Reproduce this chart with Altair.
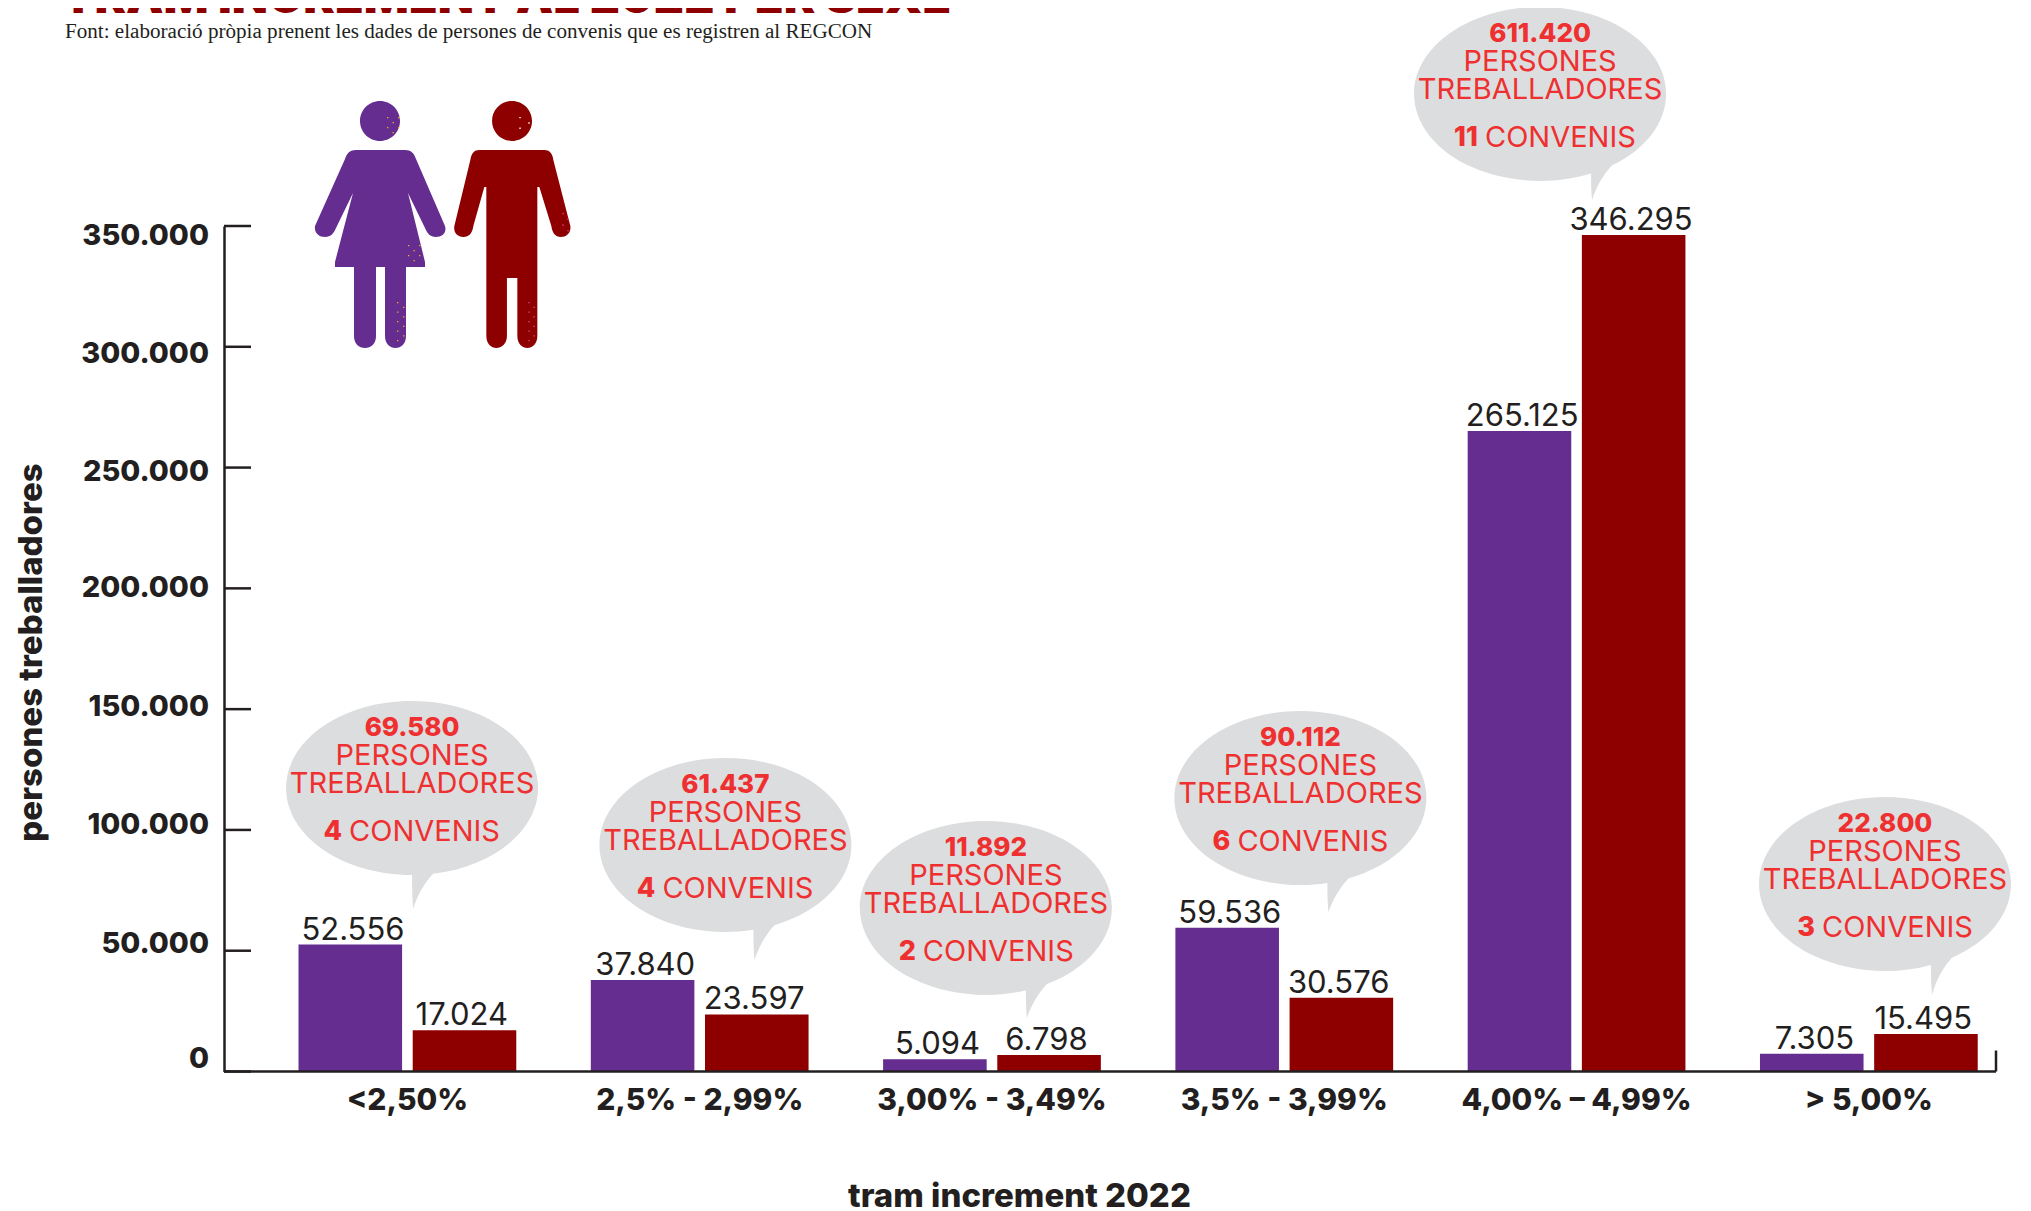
import math
import re
import altair as alt
import pandas as pd

categories = ["<2,50%", "2,5% - 2,99%", "3,00% - 3,49%", "3,5% - 3,99%", "4,00% – 4,99%", "> 5,00%"]
dona = [52556, 37840, 5094, 59536, 265125, 7305]
home = [17024, 23597, 6798, 30576, 346295, 15495]
totals = ["69.580", "61.437", "11.892", "90.112", "611.420", "22.800"]
convenis = ["4", "4", "2", "6", "11", "3"]
tick_values = [0, 50000, 100000, 150000, 200000, 250000, 300000, 350000]
tick_labels = ["0", "50.000", "100.000", "150.000", "200.000", "250.000", "300.000", "350.000"]
tick_label_at = [5000, 52800, 102000, 151000, 200000, 248000, 297000, 346000]
bubble_pos = [0.016, 1.088, 1.979, 3.055, 3.875, 5.055]
bubble_val = [117370, 93770, 67690, 113230, 404680, 77630]
tail_x = [0, 28, 40, 27, 51, 46]
tail_y = [121, 115, 110, 114, 106, 111]

W, H = 1772, 845.5
PURPLE, MAROON, INK, RED, GREY = "#652d90", "#8e0000", "#231f20", "#ee3030", "#dcddde"
GOLD, PINK = "#f5a623", "#d9408f"
SANS = "Inter"
X_RANGE = [37.25, 1791]
X_DOMAIN = [-0.6274, 5.4348]
Y_SCALE = alt.Scale(domain=[0, 350000], range=[H, 0], nice=False, zero=False)


def fmt(v):
    return f"{v:,}".replace(",", ".")


def P(s, cx, cy):
    toks = re.findall(r"[A-Za-z]|-?[\d.]+", s)
    out, isx = [], True
    for t in toks:
        if t.isalpha():
            out.append(t)
            isx = True
        else:
            v = float(t) - (cx if isx else cy)
            out.append(f"{v / 100:.4f}")
            isx = not isx
    return " ".join(out)


def circle(cx, cy, r):
    k = 0.5523 * r
    return (f"M {cx-r} {cy} C {cx-r} {cy-k} {cx-k} {cy-r} {cx} {cy-r} C {cx+k} {cy-r} {cx+r} {cy-k} {cx+r} {cy} "
            f"C {cx+r} {cy+k} {cx+k} {cy+r} {cx} {cy+r} C {cx-k} {cy+r} {cx-r} {cy+k} {cx-r} {cy} Z ")


RX, RY = 126, 87


def arc(a0, a1):
    n = max(1, math.ceil(abs(a1 - a0) / (math.pi / 2)))
    parts = []
    for i in range(n):
        b0 = a0 + (a1 - a0) * i / n
        b1 = a0 + (a1 - a0) * (i + 1) / n
        k = 4 / 3 * math.tan((b1 - b0) / 4)
        c1 = (RX * (math.cos(b0) - k * math.sin(b0)), RY * (math.sin(b0) + k * math.cos(b0)))
        c2 = (RX * (math.cos(b1) + k * math.sin(b1)), RY * (math.sin(b1) - k * math.cos(b1)))
        e = (RX * math.cos(b1), RY * math.sin(b1))
        parts.append(f"C {c1[0]:.2f} {c1[1]:.2f} {c2[0]:.2f} {c2[1]:.2f} {e[0]:.2f} {e[1]:.2f}")
    return " ".join(parts)


def bubble_path(t, tip):
    a_left = math.acos(t / RX)
    a_right = math.acos((t + 21) / RX)
    ly = RY * math.sin(a_left)
    ry = RY * math.sin(a_right)
    s = (f"M {-RX} 0 {arc(math.pi, 2 * math.pi + a_right)} "
         f"C {t+12} {ry+10} {t+6} {ry+20} {t+1} {tip} C {t} {ly+18} {t} {ly+8} {t} {ly} "
         f"{arc(a_left, math.pi)} Z")
    return P(s, 0, 0)


WOMAN = P(
    circle(380, 121, 20) +
    "M 356 150 L 405 150 C 411 150 414 153 416 159 L 445 226 C 447 233 442 237 436 237 "
    "C 430 237 427 233 425 228 L 408 193 L 425 262 L 425 267 L 406 267 L 406 336 "
    "C 406 344 401 348 395.5 348 C 390 348 385 344 385 336 L 385 267 L 376 267 L 376 336 "
    "C 376 344 371 348 365 348 C 359 348 354 344 354 336 L 354 267 L 335 267 L 335 262 "
    "L 353 193 L 336 228 C 334 233 331 237 325 237 C 319 237 314 233 315 226 L 345 159 "
    "C 347 153 350 150 356 150 Z", 380, 224.5)

MAN = P(
    circle(512.7, 121, 20) +
    "M 480 150 L 545 150 C 550 150 553 153 554 160 L 571 226 C 572 233 567 237 561.5 237 "
    "C 556 237 553 233 552 226 L 540 187 L 538 187 L 538 336 C 538 344 533 348 528 348 "
    "C 523 348 518 344 518 336 L 518 278 L 507.6 278 L 507.6 336 C 507.6 344 502 348 497 348 "
    "C 492 348 487 344 487 336 L 487 187 L 485 187 L 474 226 C 473 233 470 237 464 237 "
    "C 458 237 454 233 455 226 L 471 160 C 472 153 475 150 480 150 Z", 512.7, 224.5)


def dots(spots, cx):
    out = []
    for x0, x1, nx, y0, y1, ny in spots:
        for i in range(nx):
            for j in range(ny):
                if (i + j) % 2 == 0:
                    x = x0 + (x1 - x0) * i / max(1, nx - 1)
                    y = y0 + (y1 - y0) * j / max(1, ny - 1)
                    out.append(f"M {x} {y} L {x+1.4} {y} L {x+1.4} {y+1.4} L {x} {y+1.4} Z")
    return P(" ".join(out), cx, 224.5)


WOMAN_DOTS = dots([(387, 398, 3, 117, 132, 4), (408, 419, 3, 245, 260, 4), (397, 403, 2, 302, 340, 9)], 380)
MAN_WHITE = dots([(520, 529, 2, 117, 133, 4)], 512.7)
MAN_PINK = dots([(563, 568, 2, 213, 230, 4), (529, 534, 2, 302, 340, 9)], 512.7)

bars = pd.DataFrame(
    [{"cat": c, "sexe": "dona", "v": v, "label": fmt(v)} for c, v in zip(categories, dona)] +
    [{"cat": c, "sexe": "home", "v": v, "label": fmt(v)} for c, v in zip(categories, home)]
)
bub = pd.DataFrame({"pos": bubble_pos, "val": bubble_val, "total": totals, "conv": convenis})
bub["split"] = [p + (0.027 if len(c) > 1 else 0) for p, c in zip(bubble_pos, convenis)]
ticks = pd.DataFrame({"v": tick_values, "label": tick_labels, "at": tick_label_at})
icons = pd.DataFrame({"pos": [-0.0937, 0.358], "val": [350650, 350650]})

x_band = alt.Scale(domain=categories, range=X_RANGE, paddingInner=0.255, paddingOuter=0.1275)
x_off = alt.Scale(domain=["dona", "home"], paddingInner=0.0929)
x_q = alt.X("pos:Q", axis=None, scale=alt.Scale(domain=X_DOMAIN, range=[0, W], nice=False, zero=False))
x_split = alt.X("split:Q", axis=None, scale=alt.Scale(domain=X_DOMAIN, range=[0, W], nice=False, zero=False))
y_val = alt.Y("val:Q", axis=None, scale=Y_SCALE)

bar_layer = alt.Chart(bars).mark_bar().encode(
    x=alt.X("cat:N", scale=x_band, sort=categories, axis=alt.Axis(
        title="tram increment 2022", titleFont=SANS, titleFontSize=33, titleFontWeight=800, titleColor=INK,
        titleX=795, titleY=135, titleAnchor="middle", titleAlign="center", titleBaseline="alphabetic",
        labelFont=SANS, labelFontSize=30, labelFontWeight=800, labelColor=INK, labelAngle=0,
        labelPadding=14, labelLimit=500, domain=False, ticks=False, grid=False, labelOverlap=False)),
    xOffset=alt.XOffset("sexe:N", scale=x_off),
    y=alt.Y("v:Q", scale=Y_SCALE, axis=alt.Axis(
        title="persones treballadores", titleFont=SANS, titleFontSize=33, titleFontWeight=800, titleColor=INK,
        titleX=-193, titleY=426, titleAngle=270, titleAlign="center", titleBaseline="middle",
        labels=False, values=tick_values,
        domain=True, domainColor=INK, domainWidth=2.5, ticks=False, grid=False)),
    color=alt.Color("sexe:N", legend=None, scale=alt.Scale(domain=["dona", "home"], range=[PURPLE, MAROON])),
)
label_layer = alt.Chart(bars).mark_text(
    font=SANS, fontSize=31, color=INK, baseline="alphabetic", dy=-5
).encode(
    x=alt.X("cat:N", scale=x_band, sort=categories, axis=None),
    xOffset=alt.XOffset("sexe:N", scale=x_off),
    y=alt.Y("v:Q", scale=Y_SCALE, axis=None),
    text="label:N",
)
tick_layer = alt.Chart(ticks).mark_rule(color=INK, strokeWidth=2.5).encode(
    y=alt.Y("v:Q", scale=Y_SCALE, axis=None), x=alt.value(0), x2=alt.value(27))
tick_text = alt.Chart(ticks).mark_text(
    font=SANS, fontSize=29, fontWeight=800, color=INK, align="right", baseline="middle"
).encode(y=alt.Y("at:Q", scale=Y_SCALE, axis=None), x=alt.value(-15), text="label:N")
base_line = alt.Chart(ticks.head(1)).mark_rule(color=INK, strokeWidth=2.5).encode(
    y=alt.Y("v:Q", scale=Y_SCALE, axis=None), x=alt.value(0), x2=alt.value(W))
end_tick = alt.Chart(ticks.head(1)).mark_rule(color=INK, strokeWidth=2.5).encode(
    x=alt.value(W), y=alt.value(H), y2=alt.value(H - 21))

bubble_layers = [
    alt.Chart(bub.iloc[[i]]).mark_point(
        shape=bubble_path(tail_x[i], tail_y[i]), size=40000, filled=True, fill=GREY, strokeWidth=0, opacity=1
    ).encode(x=x_q, y=y_val)
    for i in range(len(bub))
]


def line(field=None, text=None, dy=0, weight=500, align="center", dx=0, x=x_q, size=29):
    kw = dict(font=SANS, fontSize=size, color=RED, baseline="middle", dy=dy, fontWeight=weight, align=align, dx=dx)
    if text is not None:
        kw["text"] = text
    enc = dict(x=x, y=y_val)
    if field is not None:
        enc["text"] = f"{field}:N"
    return alt.Chart(bub).mark_text(**kw).encode(**enc)


bubble_text = [
    line(field="total", dy=-60, weight=800, size=26),
    line(text="PERSONES", dy=-32, weight=400),
    line(text="TREBALLADORES", dy=-4, weight=400),
    line(field="conv", dy=44, weight=800, align="right", dx=-70, x=x_split, size=27),
    line(text="CONVENIS", dy=44, weight=400, align="left", dx=-63, x=x_split),
]


def icon(row, path, color):
    return alt.Chart(icons.iloc[[row]]).mark_point(
        shape=path, size=40000, filled=True, fill=color, strokeWidth=0, opacity=1).encode(x=x_q, y=y_val)


icon_layers = [
    icon(0, WOMAN, PURPLE), icon(1, MAN, MAROON),
    icon(0, WOMAN_DOTS, GOLD), icon(1, MAN_WHITE, "#ffffff"), icon(1, MAN_PINK, PINK),
]

title = alt.Chart(ticks.head(1)).mark_text(
    text="TRAM INCREMENT AL 2022 PER SEXE", font=SANS, fontSize=47.2, fontWeight=900, color=MAROON,
    align="left", baseline="alphabetic").encode(x=alt.value(62 - 224), y=alt.value(13 - 226))
source = alt.Chart(ticks.head(1)).mark_text(
    text="Font: elaboració pròpia prenent les dades de persones de convenis que es registren al REGCON",
    font="Liberation Serif", fontSize=21.1, color=INK, align="left", baseline="alphabetic"
).encode(x=alt.value(65 - 224), y=alt.value(38 - 226))

chart = alt.layer(
    bar_layer, *bubble_layers, *bubble_text, *icon_layers, label_layer, tick_layer, tick_text,
    base_line, end_tick, title, source
).resolve_scale(x="independent", xOffset="independent").resolve_axis(y="independent").properties(
    width=W, height=H,
    padding={"left": 216, "top": 218, "right": 27, "bottom": 141},
    autosize=alt.AutoSizeParams(type="none"),
    background="white",
).configure_view(stroke=None)

chart.save("out.html", embed_options={"renderer": "svg", "actions": False})
